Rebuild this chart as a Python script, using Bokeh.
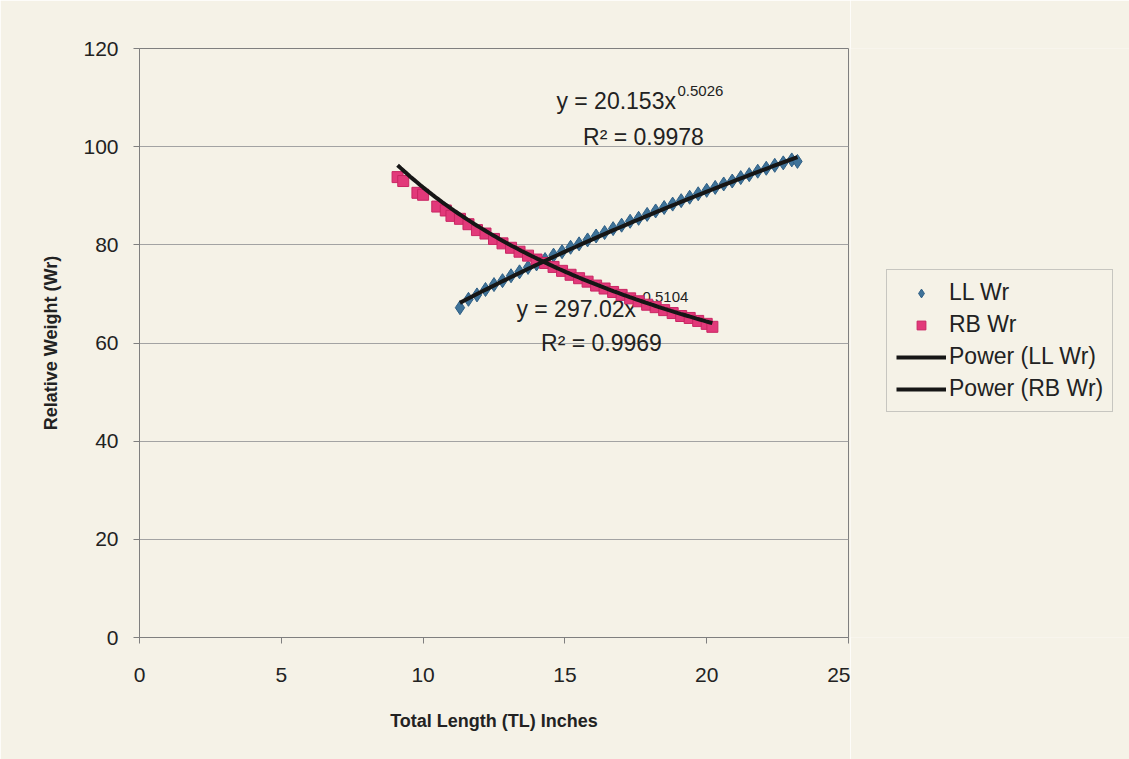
import numpy as np
from bokeh.plotting import figure
from bokeh.layouts import row
from bokeh.models import Label, Legend, LegendItem, FixedTicker
from bokeh.embed import file_html
from bokeh.resources import INLINE

# ---------------- data ----------------
ll_tl = [11.3, 11.6, 11.9, 12.2, 12.5, 12.8, 13.1, 13.4, 13.7, 14.0, 14.3, 14.6, 14.9,
         15.2, 15.5, 15.8, 16.1, 16.4, 16.7, 17.0, 17.3, 17.6, 17.9, 18.2, 18.5, 18.8,
         19.1, 19.4, 19.7, 20.0, 20.3, 20.6, 20.9, 21.2, 21.5, 21.8, 22.1, 22.4, 22.7,
         23.0, 23.2]
ll_wr = [67.2, 68.9, 69.8, 70.9, 71.9, 72.7, 73.7, 74.5, 75.4, 76.1, 77.0, 77.9, 78.6,
         79.5, 80.2, 81.0, 81.8, 82.5, 83.3, 84.0, 84.8, 85.4, 86.2, 86.9, 87.6, 88.3,
         89.0, 89.7, 90.4, 91.1, 91.7, 92.4, 93.0, 93.7, 94.3, 95.0, 95.6, 96.2, 96.7,
         97.3, 97.0]

rb_tl = [9.1, 9.3, 9.8, 10.0, 10.5, 10.8, 11.0, 11.3, 11.6, 11.9, 12.2, 12.5, 12.8,
         13.1, 13.4, 13.7, 14.0, 14.3, 14.6, 14.9, 15.2, 15.5, 15.8, 16.1, 16.4, 16.7,
         17.0, 17.3, 17.6, 17.9, 18.2, 18.5, 18.8, 19.1, 19.4, 19.7, 20.0, 20.2]
rb_wr = [93.8, 93.0, 90.6, 90.2, 87.8, 87.0, 85.9, 85.3, 84.2, 83.0, 82.3, 81.2, 80.3,
         79.4, 78.6, 77.8, 77.0, 76.3, 75.5, 74.7, 73.9, 73.2, 72.5, 71.7, 71.1, 70.4,
         69.8, 69.1, 68.5, 67.8, 67.3, 66.7, 66.1, 65.5, 65.1, 64.5, 63.9, 63.3]

# power trendline coefficients as printed on the chart
ll_coef, ll_exp = 20.153, 0.5026
rb_coef, rb_exp = 297.02, -0.5104
ll_r2 = "0.9978"
rb_r2 = "0.9969"

x_ticks = [0, 5, 10, 15, 20, 25]
y_ticks = [0, 20, 40, 60, 80, 100, 120]

series_names = ["LL Wr", "RB Wr", "Power (LL Wr)", "Power (RB Wr)"]

# ---------------- styling ----------------
BG = "#f5f2e7"
FONT = "Liberation Sans"
TXT = "#222222"
LL_STYLE = dict(marker="diamond", size=14, fill_color="#3f7399", line_color="#2f5f85", line_width=1)
RB_STYLE = dict(marker="square", size=11, fill_color="#e2397a", line_color="#c92663", line_width=1)
TREND_STYLE = dict(line_color="#161616", line_width=4)

p = figure(width=850, height=759, x_range=(0, 25), y_range=(0, 120),
           output_backend="svg", toolbar_location=None,
           min_border_left=139, min_border_right=2,
           min_border_top=48, min_border_bottom=122)
p.background_fill_color = BG
p.border_fill_color = BG
p.outline_line_color = "#7f7f7f"
p.outline_line_width = 1

p.xaxis.ticker = FixedTicker(ticks=x_ticks)
p.yaxis.ticker = FixedTicker(ticks=y_ticks)
for ax in (p.xaxis, p.yaxis):
    ax.axis_line_color = "#7f7f7f"
    ax.major_tick_line_color = "#7f7f7f"
    ax.major_tick_out = 6
    ax.major_tick_in = 0
    ax.minor_tick_line_color = None
    ax.major_label_text_font = FONT
    ax.major_label_text_font_size = "21px"
    ax.major_label_text_color = TXT
    ax.axis_label_text_font = FONT
    ax.axis_label_text_font_style = "bold"
    ax.axis_label_text_font_size = "18px"
    ax.axis_label_text_color = TXT

p.xaxis.axis_label = "Total Length (TL) Inches"
p.yaxis.axis_label = "Relative Weight (Wr)"
p.xaxis.major_label_standoff = 24
p.yaxis.major_label_standoff = 15
p.xaxis.axis_label_standoff = 26
p.yaxis.axis_label_standoff = 19

p.xgrid.grid_line_color = None
p.ygrid.grid_line_color = "#a3a3a3"
p.ygrid.grid_line_width = 1

# ---------------- equation texts (under the marks) ----------------
def lab(x, y, text, size, align="left"):
    p.add_layout(Label(x=x, y=y, text=text, text_font=FONT, text_font_size=size,
                       text_color=TXT, text_align=align, text_baseline="middle",
                       level="underlay"))

lab(14.7, 109.4, "y = %.3fx" % ll_coef, "23px")
lab(18.97, 111.3, "%.4f" % ll_exp, "15px")
lab(17.77, 101.9, "R\u00b2 = " + ll_r2, "23px", "center")

lab(13.29, 67.0, "y = %.2fx" % rb_coef, "23px")
lab(17.56, 69.4, "%.4f" % rb_exp, "15px")
lab(16.29, 59.9, "R\u00b2 = " + rb_r2, "23px", "center")

# ---------------- marks ----------------
p.scatter(ll_tl, ll_wr, **LL_STYLE)
p.scatter(rb_tl, rb_wr, **RB_STYLE)

ll_x = np.linspace(min(ll_tl), max(ll_tl), 100)
rb_x = np.linspace(min(rb_tl), max(rb_tl), 100)
p.line(ll_x, ll_coef * ll_x ** ll_exp, **TREND_STYLE)
p.line(rb_x, rb_coef * rb_x ** rb_exp, **TREND_STYLE)

# ---------------- legend panel (separate canvas to the right) ----------------
q = figure(width=279, height=759, output_backend="svg", toolbar_location=None,
           x_range=(0, 1), y_range=(0, 1),
           min_border=0, x_axis_type=None, y_axis_type=None)
q.background_fill_color = BG
q.border_fill_color = BG
q.outline_line_color = None
q.grid.grid_line_color = None
# legend swatches only: one point placed outside the visible range
g_ll = q.scatter([-5], [-5], **LL_STYLE)
g_rb = q.scatter([-5], [-5], **RB_STYLE)
g_llp = q.line([-5, -4], [-5, -4], **TREND_STYLE)
g_rbp = q.line([-5, -4], [-5, -4], **TREND_STYLE)

legend = Legend(items=[LegendItem(label=series_names[0], renderers=[g_ll]),
                       LegendItem(label=series_names[1], renderers=[g_rb]),
                       LegendItem(label=series_names[2], renderers=[g_llp]),
                       LegendItem(label=series_names[3], renderers=[g_rbp])],
                location=(36, 225))
legend.background_fill_color = BG
legend.background_fill_alpha = 1
legend.border_line_color = "#9a9a9a"
legend.border_line_width = 1
legend.label_text_font = FONT
legend.label_text_font_size = "23px"
legend.label_text_color = TXT
legend.glyph_width = 50
legend.glyph_height = 22
legend.label_height = 22
legend.spacing = 5
legend.padding = 9
legend.margin = 0
legend.label_standoff = 3
q.add_layout(legend, "center")

layout = row(p, q)
html = file_html(layout, INLINE)
open("out.html", "w").write(html)
